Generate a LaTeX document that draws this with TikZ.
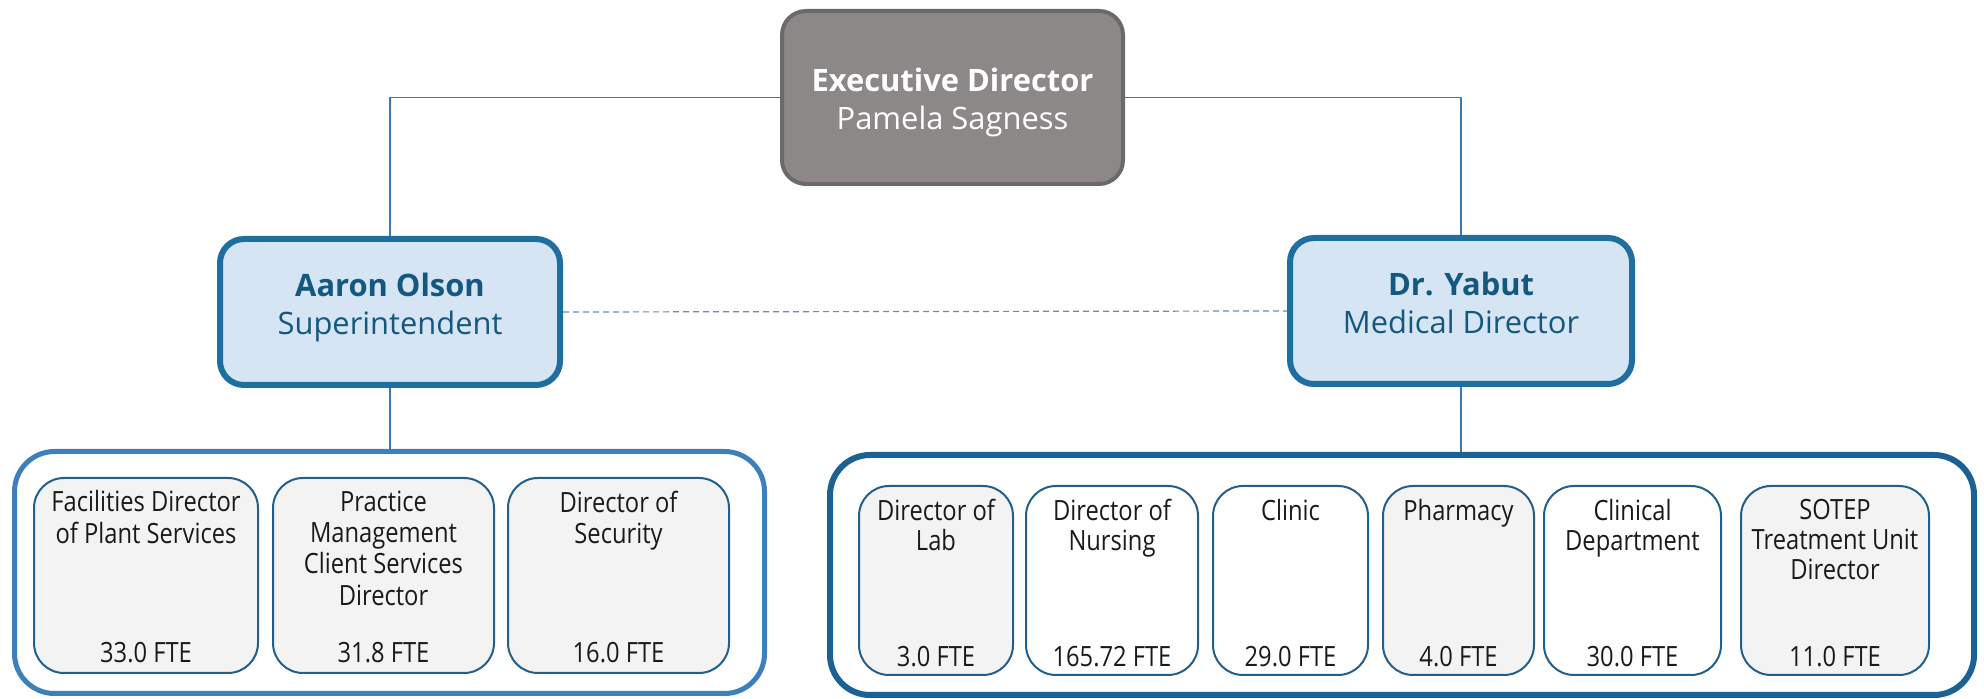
\documentclass[tikz,border=0pt]{standalone}
\usepackage{fontspec}
\setmainfont{Open Sans}
\newfontfamily\unitfont[FakeStretch=0.85]{Open Sans}
\usepackage{tikz}
\usetikzlibrary{positioning}

\definecolor{execFill}{HTML}{8C8888}
\definecolor{execLine}{HTML}{6B6969}
\definecolor{mgrFill}{HTML}{D5E5F3}
\definecolor{mgrLine}{HTML}{1E6E9F}
\definecolor{mgrText}{HTML}{14577F}
\definecolor{linkLine}{HTML}{3A78AE}
\definecolor{dashLine}{HTML}{6A8CAF}
\definecolor{leftLine}{HTML}{3D7EBD}
\definecolor{rightLine}{HTML}{1C6193}
\definecolor{unitLine}{HTML}{235F8C}
\definecolor{unitFill}{HTML}{F3F3F3}
\definecolor{unitText}{HTML}{1A1A1A}

\begin{document}
\begin{tikzpicture}[line join=round,
  execbox/.style={draw=execLine, line width=4bp, fill=execFill, rounded corners=24bp, text=white, align=center, font=\fontsize{31}{38}\selectfont},
  mgrbox/.style={draw=mgrLine, line width=6bp, fill=mgrFill, rounded corners=24bp, text=mgrText, align=center, font=\fontsize{31}{38}\selectfont},
  grpbox/.style={fill=white, rounded corners=40bp},
  unitbox/.style={draw=unitLine, line width=2bp, rounded corners=30bp, inner sep=0pt},
  lefttext/.style={inner sep=0pt, align=center, text=unitText, font=\unitfont\fontsize{28}{31.5}\selectfont},
  righttext/.style={inner sep=0pt, align=center, text=unitText, font=\unitfont\fontsize{28}{30}\selectfont},
  link/.style={draw=linkLine, line width=1.5bp},
]
\useasboundingbox (0bp,0bp) rectangle (1984bp,699bp);
%%
\node (leftGroup) at (389.5bp,126.5bp) [grpbox, draw=leftLine, line width=5bp, minimum width=750bp, minimum height=242bp] {};
  \node (rightGroup) at (1402bp,124bp) [grpbox, draw=rightLine, line width=6bp, minimum width=1144bp, minimum height=240bp] {};
  \node (facilities) at (146bp,123.5bp) [unitbox, fill=unitFill, minimum width=224bp, minimum height=195bp] {};
  \node (practice) at (383.5bp,123.5bp) [unitbox, fill=unitFill, minimum width=221bp, minimum height=195bp] {};
  \node (security) at (618.5bp,123.5bp) [unitbox, fill=unitFill, minimum width=221bp, minimum height=195bp] {};
  \node (lab) at (936bp,118.5bp) [unitbox, fill=unitFill, minimum width=154bp, minimum height=189bp] {};
  \node (nursing) at (1112bp,118.5bp) [unitbox, fill=white, minimum width=172bp, minimum height=189bp] {};
  \node (clinic) at (1290.5bp,118.5bp) [unitbox, fill=white, minimum width=155bp, minimum height=189bp] {};
  \node (pharmacy) at (1458.5bp,118.5bp) [unitbox, fill=unitFill, minimum width=151bp, minimum height=189bp] {};
  \node (clinical) at (1632.5bp,118.5bp) [unitbox, fill=white, minimum width=177bp, minimum height=189bp] {};
  \node (sotep) at (1835bp,118.5bp) [unitbox, fill=unitFill, minimum width=188bp, minimum height=189bp] {};
%
\node (facilitiesName) [lefttext, below=13.5bp of facilities.north] {Facilities Director\\of Plant Services};
  \node (practiceName) [lefttext, below=13.5bp of practice.north] {Practice\\Management\\Client Services\\Director};
  \node (securityName) [lefttext, below=13.5bp of security.north] {Director of\\Security};
  \node (labName) [righttext, below=14bp of lab.north] {Director of\\Lab};
  \node (nursingName) [righttext, below=14bp of nursing.north] {Director of\\Nursing};
  \node (clinicName) [righttext, below=14bp of clinic.north] {Clinic};
  \node (pharmacyName) [righttext, below=14bp of pharmacy.north] {Pharmacy};
  \node (clinicalName) [righttext, below=14bp of clinical.north] {Clinical\\Department};
  \node (sotepName) [righttext, below=14bp of sotep.north] {SOTEP\\Treatment Unit\\Director};
%
\node (facilitiesFte) [lefttext, above=11bp of facilities.south] {33.0 FTE};
  \node (practiceFte) [lefttext, above=11bp of practice.south] {31.8 FTE};
  \node (securityFte) [lefttext, above=11bp of security.south] {16.0 FTE};
  \node (labFte) [righttext, above=9bp of lab.south] {3.0 FTE};
  \node (nursingFte) [righttext, above=9bp of nursing.south] {165.72 FTE};
  \node (clinicFte) [righttext, above=9bp of clinic.south] {29.0 FTE};
  \node (pharmacyFte) [righttext, above=9bp of pharmacy.south] {4.0 FTE};
  \node (clinicalFte) [righttext, above=9bp of clinical.south] {30.0 FTE};
  \node (sotepFte) [righttext, above=9bp of sotep.south] {11.0 FTE};
%
\node (aaronOlson) at (390bp,387bp) [mgrbox, minimum width=340bp, minimum height=146bp] {\textbf{Aaron Olson}\\Superintendent\rule[-17bp]{0pt}{0pt}};
  \node (drYabut) at (1461bp,388bp) [mgrbox, minimum width=342bp, minimum height=146bp] {\textbf{Dr. Yabut}\\Medical Director\rule[-17bp]{0pt}{0pt}};
  \node (execDir) at (952.5bp,601.5bp) [execbox, minimum width=341bp, minimum height=173bp] {\textbf{Executive Director}\rule{0pt}{34bp}\\Pamela Sagness};
%%
\draw [link] (execDir.west) -| (aaronOlson.north);
  \draw [link] (execDir.east) -| (drYabut.north);
  \draw [link] (aaronOlson.south) -- (aaronOlson.south |- leftGroup.north);
  \draw [link] (drYabut.south) -- (drYabut.south |- rightGroup.north);
  \draw [draw=dashLine, line width=1.2bp, dash pattern=on 6bp off 4bp] (aaronOlson.east) -- (drYabut.west);
%
\end{tikzpicture}
\end{document}
